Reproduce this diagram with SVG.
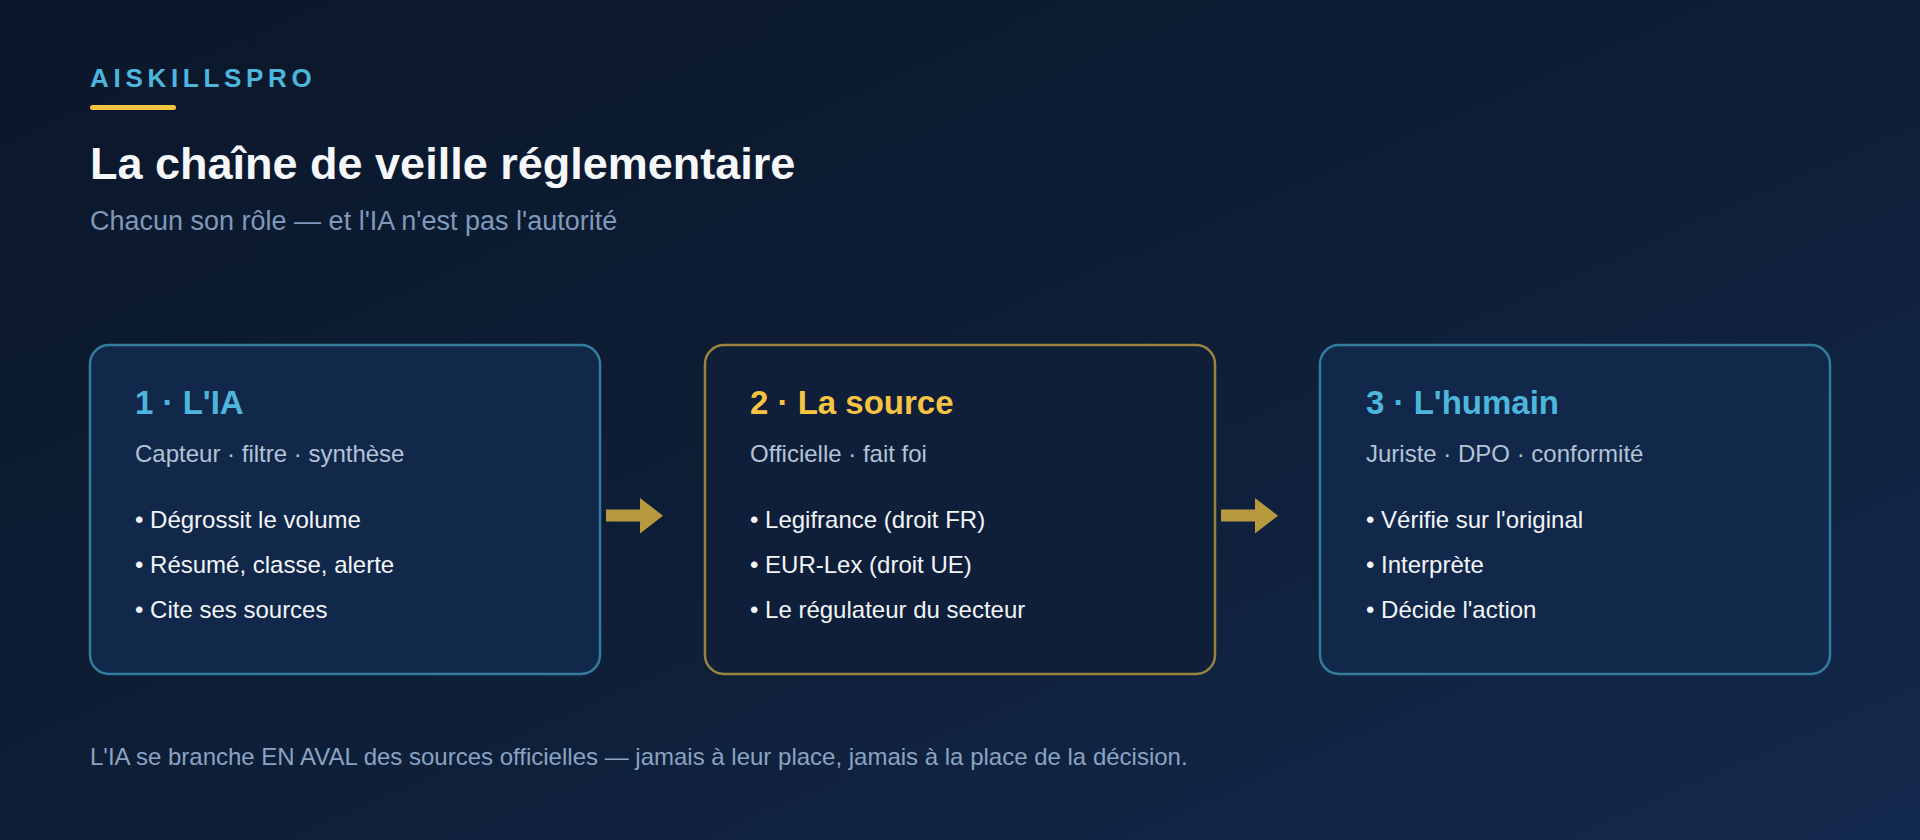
<svg xmlns="http://www.w3.org/2000/svg" width="1920" height="840" viewBox="0 0 1920 840">
  <defs>
    <linearGradient id="bg" x1="0" y1="0" x2="1" y2="1">
      <stop offset="0" stop-color="#0b172a"/>
      <stop offset="0.5" stop-color="#0e1e36"/>
      <stop offset="1" stop-color="#13294d"/>
    </linearGradient>
    <style>
      text { font-family: "Liberation Sans", Arial, sans-serif; }
      .brand { font-size: 26px; font-weight: 700; fill: #4db6dc; letter-spacing: 4.7px; }
      .title { font-size: 45px; font-weight: 700; fill: #f5f7fa; }
      .sub { font-size: 27px; fill: #7f99bb; }
      .box { stroke-width: 2.5; }
      .blue { fill: #12284a; stroke: #347c9e; }
      .gold { fill: #0f1f3a; stroke: #9a833d; }
      .h { font-size: 33px; font-weight: 700; }
      .hb { fill: #4db6dc; }
      .hg { fill: #f6c342; }
      .role { font-size: 24px; fill: #b3c3d6; }
      .item { font-size: 24px; fill: #f2f5f9; }
      .arrow { fill: #b89a3e; }
      .foot { font-size: 24px; fill: #8aa3c2; }
    </style>
  </defs>
  <rect width="1920" height="840" fill="url(#bg)"/>

  <g id="header">
    <text class="brand" x="90" y="87">AISKILLSPRO</text>
    <rect x="90" y="105" width="86" height="5" rx="2.5" fill="#f6c342"/>
    <text class="title" x="90" y="179">La chaîne de veille réglementaire</text>
    <text class="sub" x="90" y="230">Chacun son rôle — et l'IA n'est pas l'autorité</text>
  </g>

  <g id="node-ia">
    <rect class="box blue" x="90" y="345" width="510" height="329" rx="19"/>
    <text class="h hb" x="135" y="414">1 · L'IA</text>
    <text class="role" x="135" y="462">Capteur · filtre · synthèse</text>
    <text class="item" x="135" y="528">• Dégrossit le volume</text>
    <text class="item" x="135" y="573">• Résumé, classe, alerte</text>
    <text class="item" x="135" y="618">• Cite ses sources</text>
  </g>

  <g id="node-source">
    <rect class="box gold" x="705" y="345" width="510" height="329" rx="19"/>
    <text class="h hg" x="750" y="414">2 · La source</text>
    <text class="role" x="750" y="462">Officielle · fait foi</text>
    <text class="item" x="750" y="528">• Legifrance (droit FR)</text>
    <text class="item" x="750" y="573">• EUR-Lex (droit UE)</text>
    <text class="item" x="750" y="618">• Le régulateur du secteur</text>
  </g>

  <g id="node-humain">
    <rect class="box blue" x="1320" y="345" width="510" height="329" rx="19"/>
    <text class="h hb" x="1366" y="414">3 · L'humain</text>
    <text class="role" x="1366" y="462">Juriste · DPO · conformité</text>
    <text class="item" x="1366" y="528">• Vérifie sur l'original</text>
    <text class="item" x="1366" y="573">• Interprète</text>
    <text class="item" x="1366" y="618">• Décide l'action</text>
  </g>

  <g id="connectors">
    <polygon class="arrow" points="606,509.5 640,509.5 640,498 663,515.7 640,533.5 640,521.5 606,521.5"/>
    <polygon class="arrow" points="1221,509.5 1255,509.5 1255,498 1278,515.7 1255,533.5 1255,521.5 1221,521.5"/>
  </g>

  <g id="footer">
    <text class="foot" x="90" y="765">L'IA se branche EN AVAL des sources officielles — jamais à leur place, jamais à la place de la décision.</text>
  </g>
</svg>
